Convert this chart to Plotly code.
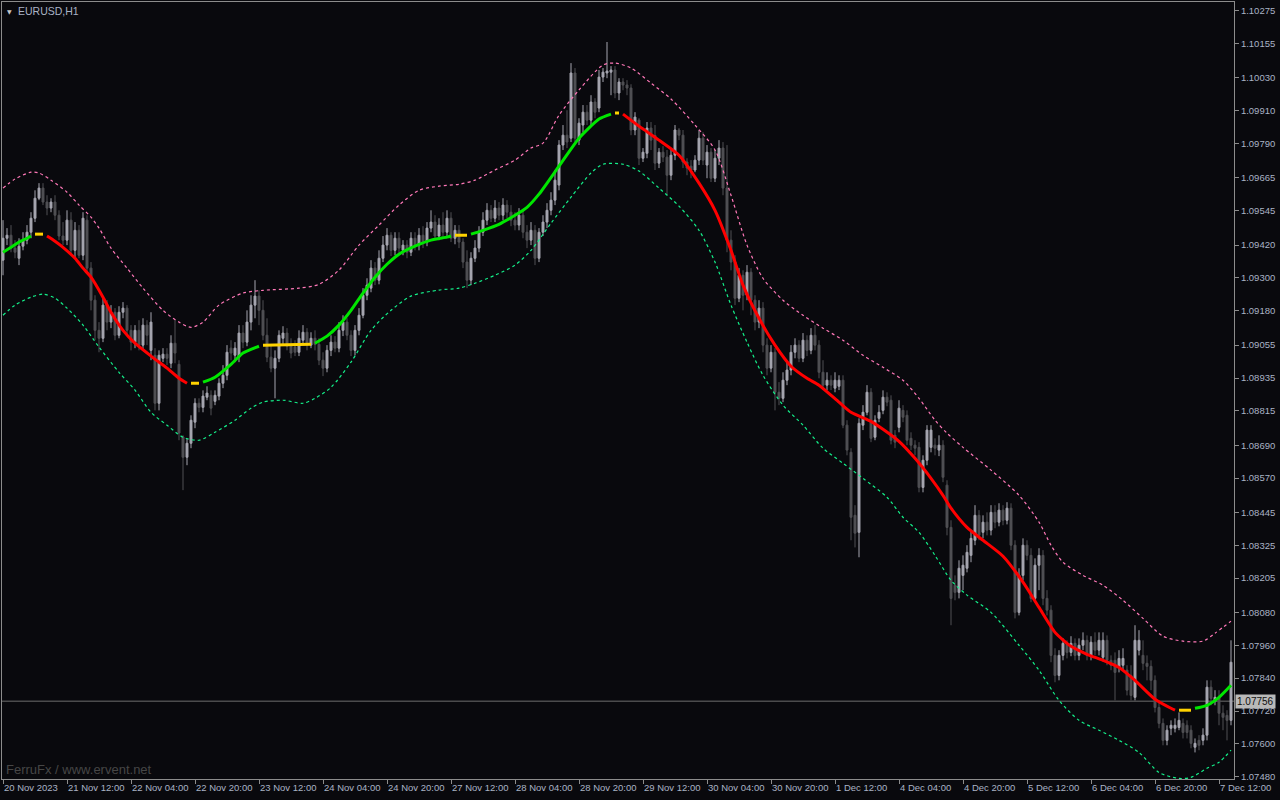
import plotly.graph_objects as go

# ---------------- data (EURUSD H1, bar index 0 = 20 Nov 2023 20:00) ----------------
open_ = [
1.09365,1.09445,1.09456,1.09409,1.09372,1.09416,1.09438,1.09467,1.09518,1.09591,
1.09628,1.09577,1.09555,1.09577,1.09529,1.09453,1.09438,1.09511,1.09401,1.09474,
1.09383,1.09511,1.09336,1.09219,1.09109,1.09080,1.09201,1.09139,1.09175,1.09091,
1.09175,1.09190,1.09109,1.09066,1.09109,1.09055,1.09128,1.09036,1.09018,1.08843,
1.09007,1.09022,1.08989,1.09062,1.08985,1.08720,1.08646,1.08697,1.08774,1.08843,
1.08828,1.08865,1.08872,1.08850,1.08869,1.08916,1.08945,1.09044,1.09018,1.09011,
1.09099,1.09066,1.09139,1.09201,1.09234,1.09182,1.09091,1.09011,1.08971,1.09007,
1.09080,1.09099,1.09051,1.09048,1.09029,1.09073,1.09102,1.09055,1.09080,1.09058,
1.09000,1.08971,1.09036,1.09066,1.09044,1.09109,1.09139,1.09091,1.09036,1.09109,
1.09164,1.09237,1.09263,1.09336,1.09292,1.09372,1.09420,1.09456,1.09401,1.09445,
1.09401,1.09420,1.09394,1.09445,1.09420,1.09456,1.09431,1.09482,1.09504,1.09453,
1.09493,1.09467,1.09518,1.09445,1.09474,1.09431,1.09358,1.09292,1.09372,1.09409,
1.09467,1.09511,1.09547,1.09518,1.09555,1.09529,1.09566,1.09540,1.09511,1.09493,
1.09529,1.09467,1.09438,1.09474,1.09372,1.09467,1.09504,1.09547,1.09584,1.09639,
1.09785,1.09821,1.09810,1.10048,1.09803,1.09858,1.09905,1.09876,1.09942,1.09920,
1.10033,1.10048,1.10051,1.10059,1.09975,1.10015,1.10004,1.09993,1.09840,1.09876,
1.09737,1.09755,1.09847,1.09820,1.09719,1.09759,1.09741,1.09675,1.09748,1.09840,
1.09821,1.09723,1.09708,1.09694,1.09730,1.09810,1.09712,1.09759,1.09664,1.09737,
1.09774,1.09628,1.09438,1.09358,1.09226,1.09310,1.09237,1.09321,1.09219,1.09139,
1.09190,1.09055,1.08971,1.09029,1.08883,1.08861,1.08927,1.08964,1.09029,1.09055,
1.09007,1.09073,1.09036,1.09091,1.09055,1.08956,1.08909,1.08927,1.08898,1.08905,
1.08927,1.08763,1.08664,1.08434,1.08372,1.08763,1.08810,1.08883,1.08719,1.08788,
1.08817,1.08865,1.08854,1.08726,1.08755,1.08817,1.08799,1.08715,1.08690,1.08682,
1.08536,1.08635,1.08682,1.08690,1.08672,1.08690,1.08544,1.08390,1.08179,1.08153,
1.08215,1.08241,1.08288,1.08343,1.08434,1.08372,1.08409,1.08380,1.08445,1.08409,
1.08453,1.08416,1.08460,1.08325,1.08080,1.08215,1.08325,1.08288,1.08131,1.08252,
1.08288,1.08131,1.08088,1.07923,1.07850,1.07923,1.07967,1.07934,1.07967,1.07923,
1.07960,1.07978,1.07923,1.07971,1.07942,1.07916,1.07978,1.07905,1.07905,1.07879,
1.07887,1.07869,1.07850,1.07770,1.07942,1.07923,1.07894,1.07883,1.07832,1.07733,
1.07675,1.07613,1.07657,1.07657,1.07660,1.07675,1.07668,1.07650,1.07588,1.07613,
1.07613,1.07632,1.07807,1.07755,1.07770,1.07712,1.07704,1.07686]

high = [
1.09511,1.09482,1.09493,1.09438,1.09445,1.09467,1.09493,1.09540,1.09620,1.09646,
1.09646,1.09602,1.09591,1.09602,1.09547,1.09504,1.09547,1.09540,1.09504,1.09493,
1.09540,1.09529,1.09358,1.09237,1.09139,1.09226,1.09219,1.09201,1.09190,1.09197,
1.09212,1.09201,1.09128,1.09128,1.09146,1.09153,1.09146,1.09175,1.09044,1.09036,
1.09044,1.09044,1.09091,1.09146,1.09000,1.08726,1.08715,1.08799,1.08861,1.08861,
1.08890,1.08905,1.08890,1.08890,1.08934,1.08982,1.09055,1.09073,1.09066,1.09128,
1.09128,1.09182,1.09237,1.09292,1.09255,1.09219,1.09153,1.09055,1.09036,1.09109,
1.09124,1.09117,1.09080,1.09073,1.09109,1.09128,1.09117,1.09102,1.09109,1.09080,
1.09029,1.09055,1.09091,1.09088,1.09139,1.09164,1.09153,1.09109,1.09128,1.09190,
1.09263,1.09299,1.09365,1.09358,1.09401,1.09453,1.09482,1.09467,1.09467,1.09467,
1.09438,1.09438,1.09467,1.09467,1.09482,1.09489,1.09504,1.09547,1.09529,1.09518,
1.09540,1.09547,1.09540,1.09493,1.09493,1.09445,1.09401,1.09394,1.09438,1.09489,
1.09540,1.09573,1.09566,1.09584,1.09577,1.09591,1.09584,1.09566,1.09540,1.09555,
1.09547,1.09493,1.09504,1.09493,1.09482,1.09529,1.09573,1.09613,1.09694,1.09803,
1.09858,1.09912,1.10084,1.10066,1.09883,1.09931,1.09931,1.09967,1.09956,1.10059,
1.10066,1.10161,1.10073,1.10073,1.10029,1.10029,1.10022,1.10007,1.09905,1.09883,
1.09774,1.09869,1.09869,1.09858,1.09774,1.09781,1.09767,1.09767,1.09858,1.09847,
1.09840,1.09737,1.09730,1.09748,1.09840,1.09832,1.09785,1.09774,1.09767,1.09803,
1.09796,1.09785,1.09474,1.09383,1.09336,1.09328,1.09347,1.09336,1.09237,1.09219,
1.09212,1.09080,1.09055,1.09044,1.08920,1.08956,1.08993,1.09055,1.09080,1.09073,
1.09099,1.09091,1.09117,1.09128,1.09073,1.09000,1.08956,1.08945,1.08956,1.08945,
1.08945,1.08781,1.08679,1.08471,1.08788,1.08836,1.08909,1.08898,1.08799,1.08836,
1.08890,1.08883,1.08872,1.08745,1.08854,1.08836,1.08817,1.08737,1.08708,1.08701,
1.08653,1.08763,1.08763,1.08715,1.08726,1.08708,1.08562,1.08416,1.08215,1.08270,
1.08288,1.08325,1.08380,1.08471,1.08453,1.08434,1.08445,1.08471,1.08471,1.08478,
1.08471,1.08482,1.08478,1.08343,1.08241,1.08350,1.08343,1.08314,1.08277,1.08314,
1.08307,1.08161,1.08106,1.07949,1.07942,1.07985,1.07978,1.07993,1.07985,1.07985,
1.08007,1.07996,1.07993,1.08007,1.08007,1.08007,1.07996,1.07923,1.07934,1.07942,
1.07949,1.07887,1.07887,1.08033,1.08015,1.07978,1.07923,1.07905,1.07850,1.07759,
1.07693,1.07668,1.07686,1.07693,1.07715,1.07693,1.07686,1.07668,1.07620,1.07632,
1.07657,1.07832,1.07832,1.07796,1.07796,1.07741,1.07723,1.07978]

low = [
1.09310,1.09420,1.09394,1.09372,1.09347,1.09401,1.09423,1.09445,1.09504,1.09584,
1.09566,1.09529,1.09540,1.09511,1.09438,1.09420,1.09420,1.09387,1.09372,1.09372,
1.09365,1.09321,1.09182,1.09073,1.09029,1.09066,1.09109,1.09117,1.09073,1.09080,
1.09153,1.09095,1.09036,1.09044,1.09036,1.09036,1.09055,1.09000,1.08817,1.08817,
1.08993,1.08982,1.08971,1.08989,1.08708,1.08526,1.08617,1.08679,1.08752,1.08810,
1.08810,1.08854,1.08799,1.08836,1.08854,1.08898,1.08927,1.09000,1.08993,1.08993,
1.09044,1.09051,1.09109,1.09153,1.09128,1.09073,1.08993,1.08956,1.08861,1.08993,
1.09055,1.09036,1.09007,1.09015,1.09015,1.09055,1.09036,1.09044,1.09036,1.08982,
1.08942,1.08956,1.09015,1.09029,1.09029,1.09088,1.09073,1.09015,1.09018,1.09091,
1.09153,1.09219,1.09248,1.09274,1.09277,1.09358,1.09401,1.09380,1.09383,1.09383,
1.09383,1.09372,1.09380,1.09401,1.09401,1.09409,1.09416,1.09467,1.09438,1.09438,
1.09445,1.09453,1.09431,1.09423,1.09409,1.09336,1.09263,1.09274,1.09358,1.09394,
1.09453,1.09493,1.09504,1.09504,1.09511,1.09511,1.09518,1.09489,1.09474,1.09474,
1.09445,1.09409,1.09420,1.09347,1.09358,1.09453,1.09482,1.09529,1.09566,1.09620,
1.09767,1.09774,1.09796,1.09785,1.09785,1.09832,1.09858,1.09854,1.09883,1.09905,
1.10015,1.10029,1.09967,1.09956,1.09949,1.09985,1.09967,1.09821,1.09821,1.09712,
1.09723,1.09737,1.09767,1.09694,1.09701,1.09723,1.09602,1.09657,1.09730,1.09803,
1.09701,1.09675,1.09664,1.09686,1.09712,1.09712,1.09664,1.09650,1.09650,1.09712,
1.09602,1.09394,1.09328,1.09201,1.09212,1.09182,1.09219,1.09164,1.09109,1.09117,
1.09029,1.08945,1.08956,1.08817,1.08836,1.08847,1.08909,1.08945,1.09007,1.08993,
1.08993,1.09015,1.09022,1.09036,1.08934,1.08891,1.08891,1.08891,1.08883,1.08891,
1.08752,1.08653,1.08343,1.08317,1.08281,1.08745,1.08799,1.08701,1.08708,1.08774,
1.08803,1.08832,1.08693,1.08679,1.08737,1.08774,1.08690,1.08672,1.08653,1.08518,
1.08518,1.08617,1.08664,1.08653,1.08650,1.08555,1.08361,1.08033,1.08124,1.08131,
1.08161,1.08226,1.08263,1.08325,1.08343,1.08350,1.08361,1.08361,1.08387,1.08394,
1.08398,1.08401,1.08307,1.08058,1.08069,1.08197,1.08270,1.08117,1.08117,1.08161,
1.08106,1.08069,1.07898,1.07825,1.07832,1.07905,1.07912,1.07920,1.07905,1.07905,
1.07942,1.07905,1.07905,1.07923,1.07923,1.07905,1.07887,1.07869,1.07759,1.07861,
1.07869,1.07777,1.07759,1.07759,1.07923,1.07869,1.07832,1.07796,1.07715,1.07657,
1.07595,1.07595,1.07632,1.07642,1.07650,1.07620,1.07620,1.07584,1.07569,1.07577,
1.07595,1.07613,1.07741,1.07741,1.07668,1.07650,1.07613,1.07668]

close = [
1.09445,1.09456,1.09409,1.09394,1.09416,1.09438,1.09467,1.09518,1.09591,1.09628,
1.09577,1.09555,1.09577,1.09529,1.09453,1.09438,1.09511,1.09401,1.09474,1.09383,
1.09518,1.09336,1.09219,1.09109,1.09080,1.09201,1.09139,1.09175,1.09091,1.09175,
1.09190,1.09109,1.09066,1.09109,1.09055,1.09128,1.09091,1.09139,1.08843,1.09018,
1.09022,1.09007,1.09062,1.09026,1.08734,1.08646,1.08697,1.08781,1.08843,1.08828,
1.08869,1.08880,1.08825,1.08872,1.08916,1.08945,1.09029,1.09026,1.09044,1.09099,
1.09066,1.09139,1.09201,1.09234,1.09182,1.09091,1.09011,1.08971,1.09007,1.09091,
1.09099,1.09051,1.09026,1.09029,1.09080,1.09102,1.09055,1.09080,1.09058,1.09000,
1.08971,1.09036,1.09066,1.09044,1.09109,1.09139,1.09091,1.09036,1.09109,1.09164,
1.09237,1.09274,1.09336,1.09292,1.09372,1.09420,1.09456,1.09401,1.09445,1.09409,
1.09420,1.09394,1.09445,1.09420,1.09456,1.09431,1.09482,1.09504,1.09453,1.09493,
1.09467,1.09518,1.09445,1.09474,1.09431,1.09358,1.09292,1.09372,1.09409,1.09467,
1.09511,1.09547,1.09518,1.09555,1.09529,1.09566,1.09540,1.09511,1.09493,1.09529,
1.09467,1.09438,1.09474,1.09372,1.09467,1.09504,1.09547,1.09584,1.09657,1.09785,
1.09821,1.09796,1.10048,1.09810,1.09865,1.09905,1.09876,1.09942,1.09905,1.10033,
1.10051,1.10055,1.10059,1.09975,1.10015,1.10004,1.09993,1.09840,1.09887,1.09737,
1.09759,1.09847,1.09803,1.09719,1.09759,1.09741,1.09675,1.09748,1.09840,1.09821,
1.09723,1.09701,1.09694,1.09730,1.09810,1.09730,1.09759,1.09664,1.09737,1.09774,
1.09628,1.09438,1.09358,1.09226,1.09310,1.09237,1.09321,1.09219,1.09139,1.09190,
1.09055,1.08971,1.09029,1.08883,1.08861,1.08927,1.08964,1.09029,1.09055,1.09007,
1.09073,1.09036,1.09091,1.09055,1.08956,1.08909,1.08927,1.08909,1.08927,1.08927,
1.08763,1.08672,1.08427,1.08369,1.08770,1.08810,1.08883,1.08715,1.08781,1.08810,
1.08865,1.08847,1.08708,1.08701,1.08825,1.08792,1.08708,1.08690,1.08679,1.08536,
1.08635,1.08745,1.08745,1.08679,1.08690,1.08573,1.08390,1.08131,1.08153,1.08241,
1.08252,1.08299,1.08350,1.08434,1.08361,1.08409,1.08380,1.08445,1.08409,1.08453,
1.08416,1.08460,1.08325,1.08080,1.08215,1.08325,1.08288,1.08131,1.08252,1.08288,
1.08131,1.08088,1.07923,1.07850,1.07923,1.07967,1.07934,1.07967,1.07923,1.07960,
1.07978,1.07923,1.07971,1.07942,1.07978,1.07978,1.07905,1.07887,1.07861,1.07912,
1.07912,1.07796,1.07777,1.07978,1.07978,1.07894,1.07883,1.07832,1.07733,1.07675,
1.07613,1.07650,1.07668,1.07668,1.07686,1.07642,1.07642,1.07602,1.07602,1.07595,
1.07632,1.07807,1.07766,1.07770,1.07712,1.07697,1.07686,1.07898]

# moving average (bar index, value, trend state: G up, R down, Y flat)
ma_bar = [0,2,4,6,7, 8,10,
          11,13,15,18,20,22,25,27,30,33,37,41,44,46, 47,49,
          50,53,57,60,64, 65,71,77,
          78,81,84,87,90,93,96,99,103,107,111,112, 113,116,
          117,120,124,128,131,134,139,144,149,152, 153,154,
          155,159,164,169,174,178,182,185,189,193,197,201,204,209,212,217,220,224,228,
          232,235,237,241,245,250,255,259,263,267,271,275,279,283,288,292,293, 294,297,
          298,301,304,307]
ma_val = [1.09394,1.09412,1.09431,1.09445,1.09453, 1.09460,1.09460,
          1.09453,1.09434,1.09412,1.09372,1.09336,1.09303,1.09230,1.09175,1.09109,1.09062,
          1.09015,1.08971,1.08934,1.08916, 1.08916,1.08916,
          1.08920,1.08938,1.08985,1.09026,1.09051, 1.09055,1.09056,1.09058,
          1.09062,1.09088,1.09128,1.09182,1.09245,1.09303,1.09350,1.09387,1.09416,1.09438,
          1.09449,1.09453, 1.09456,1.09456,
          1.09460,1.09474,1.09496,1.09529,1.09558,1.09606,1.09708,1.09810,1.09880,1.09898,
          1.09902,1.09902,
          1.09898,1.09854,1.09803,1.09748,1.09646,1.09547,1.09401,1.09274,1.09153,1.09055,
          1.08978,1.08934,1.08909,1.08847,1.08810,1.08777,1.08748,1.08704,1.08642,
          1.08569,1.08507,1.08460,1.08390,1.08343,1.08285,1.08190,1.08098,1.08007,1.07956,
          1.07927,1.07905,1.07879,1.07832,1.07763,1.07730,1.07723, 1.07723,1.07723,
          1.07730,1.07741,1.07770,1.07814]
ma_state = (["G"] * 5 + ["Y"] * 2 + ["R"] * 14 + ["Y"] * 2 + ["G"] * 5 + ["Y"] * 3
            + ["G"] * 12 + ["Y"] * 2 + ["G"] * 10 + ["Y"] * 2 + ["R"] * 36 + ["Y"] * 2
            + ["G"] * 4)

# upper / lower bands
ub_bar = [0,3,7,9,12,16,19,22,24,27,31,35,40,44,47,50,54,60,65,74,79,84,89,94,99,104,
          109,114,118,123,128,132,135,139,144,150,153,157,162,167,173,178,182,186,190,
          195,200,205,210,215,220,225,229,233,236,240,247,254,259,262,265,270,275,280,
          285,290,295,300,303,307]
ub_val = [1.09628,1.09661,1.09686,1.09683,1.09657,1.09613,1.09566,1.09522,1.09482,1.09409,
          1.09336,1.09263,1.09182,1.09139,1.09120,1.09139,1.09201,1.09245,1.09255,1.09263,
          1.09277,1.09329,1.09420,1.09493,1.09566,1.09620,1.09635,1.09642,1.09657,1.09694,
          1.09730,1.09774,1.09792,1.09894,1.09986,1.10077,1.10084,1.10066,1.10011,1.09953,
          1.09858,1.09767,1.09602,1.09420,1.09299,1.09219,1.09164,1.09117,1.09073,1.09018,
          1.08974,1.08927,1.08861,1.08781,1.08734,1.08682,1.08599,1.08507,1.08409,1.08325,
          1.08263,1.08215,1.08179,1.08124,1.08058,1.07993,1.07975,1.07975,1.08004,1.08048]
lb_bar = [0,3,7,10,13,16,20,24,29,33,37,41,45,49,53,58,62,65,70,75,78,82,87,92,97,102,
          109,114,118,123,128,132,137,142,147,150,155,159,164,169,174,178,182,186,190,
          195,200,205,210,215,221,225,229,233,237,241,247,254,259,264,269,274,279,284,
          289,294,297,301,304,307]
lb_val = [1.09164,1.09201,1.09230,1.09241,1.09226,1.09190,1.09128,1.09048,1.08956,1.08891,
          1.08810,1.08763,1.08719,1.08708,1.08737,1.08781,1.08825,1.08847,1.08854,1.08843,
          1.08861,1.08901,1.08993,1.09109,1.09182,1.09234,1.09256,1.09263,1.09281,1.09310,
          1.09347,1.09401,1.09500,1.09595,1.09683,1.09715,1.09715,1.09690,1.09628,1.09562,
          1.09474,1.09358,1.09201,1.09066,1.08945,1.08836,1.08763,1.08679,1.08624,1.08569,
          1.08500,1.08427,1.08372,1.08288,1.08197,1.08143,1.08080,1.07960,1.07869,1.07759,
          1.07686,1.07650,1.07613,1.07569,1.07496,1.07474,1.07478,1.07511,1.07533,1.07577]

bid_price = 1.07756

x_labels = ["20 Nov 2023", "21 Nov 12:00", "22 Nov 04:00", "22 Nov 20:00", "23 Nov 12:00",
            "24 Nov 04:00", "24 Nov 20:00", "27 Nov 12:00", "28 Nov 04:00", "28 Nov 20:00",
            "29 Nov 12:00", "30 Nov 04:00", "30 Nov 20:00", "1 Dec 12:00", "4 Dec 04:00",
            "4 Dec 20:00", "5 Dec 12:00", "6 Dec 04:00", "6 Dec 20:00", "7 Dec 12:00"]
x_label_step = 16  # bars between time labels
y_labels = [1.10275, 1.10155, 1.10030, 1.09910, 1.09790, 1.09665, 1.09545, 1.09420,
            1.09300, 1.09180, 1.09055, 1.08935, 1.08815, 1.08690, 1.08570, 1.08445,
            1.08325, 1.08205, 1.08080, 1.07960, 1.07840, 1.07720, 1.07600, 1.07480]

# ---------------- figure ----------------
BG = "#09090d"
FRAME = "#8c8c8c"
TXT = "#aab3c5"
FONT = "Liberation Sans"

bars = list(range(len(close)))
fig = go.Figure()

fig.add_trace(go.Candlestick(
    x=bars, open=open_, high=high, low=low, close=close,
    increasing=dict(line=dict(color="#a6a6b0", width=1), fillcolor="#a6a6b0"),
    decreasing=dict(line=dict(color="#505054", width=1), fillcolor="#505054"),
    whiskerwidth=0, hoverinfo="skip", showlegend=False))

fig.add_trace(go.Scatter(x=ub_bar, y=ub_val, mode="lines",
                         line=dict(color="#ff78b8", width=1.2, dash="3px,3px", shape="spline", smoothing=0.8),
                         hoverinfo="skip", showlegend=False))
fig.add_trace(go.Scatter(x=lb_bar, y=lb_val, mode="lines",
                         line=dict(color="#14f08a", width=1.2, dash="3px,3px", shape="spline", smoothing=0.8),
                         hoverinfo="skip", showlegend=False))

state_color = {"G": "#00e600", "R": "#ff0000", "Y": "#ffd200"}
seg_x, seg_y, cur = [], [], None
segments = []
for b, v, s in zip(ma_bar, ma_val, ma_state):
    if s != cur and seg_x:
        segments.append((cur, seg_x, seg_y))
        seg_x, seg_y = [], []
    cur = s
    seg_x.append(b)
    seg_y.append(v)
segments.append((cur, seg_x, seg_y))
for s, sx, sy in segments:
    fig.add_trace(go.Scatter(x=sx, y=sy, mode="lines",
                             line=dict(color=state_color[s], width=3, shape="spline", smoothing=0.6),
                             hoverinfo="skip", showlegend=False))

fig.add_shape(type="line", xref="paper", x0=0, x1=1, yref="y", y0=bid_price, y1=bid_price,
              line=dict(color="#6e6e6e", width=1), layer="below")

fig.add_annotation(xref="paper", x=1, xanchor="left", xshift=1, yref="y", y=bid_price,
                   text=f"{bid_price:.5f}", showarrow=False, bgcolor="#b9b9b9",
                   font=dict(family=FONT, size=10, color="#101010"), borderpad=1)
fig.add_annotation(xref="paper", x=0, xanchor="left", xshift=3, yref="paper", y=1, yanchor="top",
                   yshift=-4, text="▼", showarrow=False, font=dict(family="DejaVu Sans", size=6, color="#c8c8c8"))
fig.add_annotation(xref="paper", x=0, xanchor="left", xshift=14, yref="paper", y=1, yanchor="top",
                   yshift=-1, text="EURUSD,H1", showarrow=False, font=dict(family=FONT, size=10.5, color=TXT))
fig.add_annotation(xref="paper", x=0, xanchor="left", xshift=2, yref="paper", y=0, yanchor="bottom",
                   yshift=0, text="FerruFx / www.ervent.net", showarrow=False,
                   font=dict(family=FONT, size=13, color="#464646"))

fig.update_layout(
    width=1280, height=800,
    margin=dict(l=2, r=46, t=2, b=21),
    paper_bgcolor=BG, plot_bgcolor=BG,
    showlegend=False, hovermode=False,
    font=dict(family=FONT, size=9.5, color=TXT),
    xaxis=dict(range=[-0.25, len(close) - 0.25], rangeslider=dict(visible=False),
               tickmode="array", tickvals=[i * x_label_step for i in range(len(x_labels))],
               ticktext=x_labels, ticks="outside", ticklen=4, tickcolor=FRAME, tickangle=0,
               ticklabelposition="outside right", showgrid=False, zeroline=False,
               showline=True, mirror=True, linecolor=FRAME, linewidth=1,
               tickfont=dict(family=FONT, size=9.5, color=TXT), automargin=False),
    yaxis=dict(range=[1.07472, 1.10307], side="right",
               tickmode="array", tickvals=y_labels, ticktext=[f"{v:.5f}" for v in y_labels],
               ticks="outside", ticklen=4, tickcolor=FRAME, showgrid=False, zeroline=False,
               showline=True, mirror=True, linecolor=FRAME, linewidth=1,
               tickfont=dict(family=FONT, size=9.5, color=TXT), automargin=False),
)

fig.write_html("out.html", config={"displayModeBar": False},
               post_script="document.body.style.margin='0';document.body.style.background='#09090d';")
